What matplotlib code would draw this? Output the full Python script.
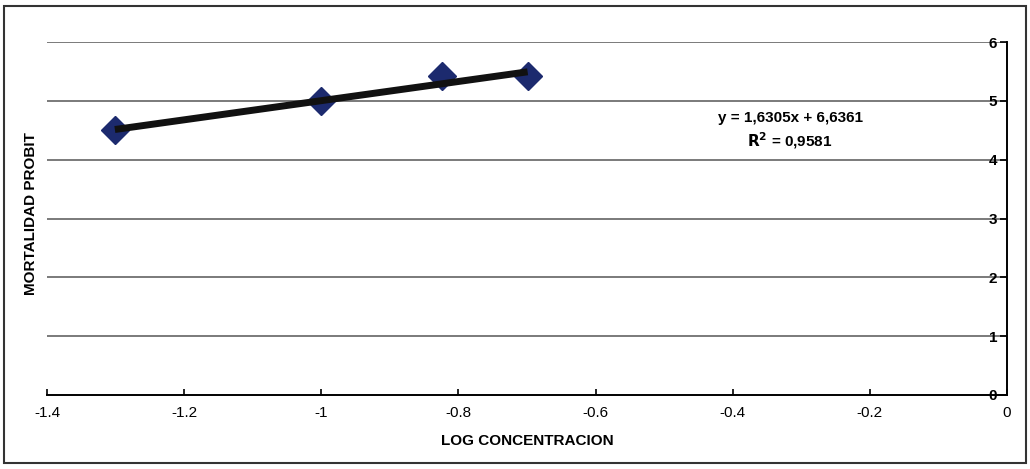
import matplotlib
matplotlib.use("Agg")
import matplotlib.pyplot as plt
from matplotlib.patches import Rectangle
import numpy as np

plt.rcParams['font.family'] = ['Liberation Sans Narrow', 'Liberation Sans', 'DejaVu Sans']

log_conc = [-1.301, -1.0, -0.824, -0.699]
probit = [4.50, 5.00, 5.43, 5.42]
slope = 1.6305
intercept = 6.6361
r2 = 0.9581
x_ticks = [-1.4, -1.2, -1.0, -0.8, -0.6, -0.4, -0.2, 0.0]
x_tick_labels = ['-1.4', '-1.2', '-1', '-0.8', '-0.6', '-0.4', '-0.2', '0']
y_ticks = [0, 1, 2, 3, 4, 5, 6]

fig = plt.figure(figsize=(10.30, 4.69), dpi=100)
ax = fig.add_axes([0.0456, 0.158, 0.932, 0.752])

ax.set_xlim(-1.4, 0)
ax.set_ylim(0, 6)

for y in y_ticks[1:]:
    ax.axhline(y, color='#7a7a7a', lw=1.4, zorder=1)

xl = np.array([min(log_conc), max(log_conc)])
ax.plot(xl, slope * xl + intercept, color='#111111', lw=5.0, zorder=3, solid_capstyle='butt')
ax.plot(log_conc, probit, linestyle='none', marker='D', markersize=14,
        color='#1c2a6e', markeredgecolor='#1c2a6e', zorder=2)

for s in ['top', 'right']:
    ax.spines[s].set_visible(False)
ax.spines['left'].set_position(('data', 0))
ax.spines['bottom'].set_position(('data', 0))
ax.spines['left'].set_linewidth(1.4)
ax.spines['bottom'].set_linewidth(1.4)

ax.set_xticks(x_ticks)
ax.set_xticklabels(x_tick_labels)
ax.set_yticks(y_ticks)
ax.tick_params(axis='x', direction='in', length=4, width=1.2, labelsize=11, pad=8)
ax.tick_params(axis='y', direction='out', length=5, width=1.2, labelsize=11, pad=2)
for t in ax.get_yticklabels():
    t.set_fontweight('bold')

ax.set_xlabel('LOG CONCENTRACION', fontsize=11, fontweight='bold', labelpad=10)
fig.text(0.030, 0.545, 'MORTALIDAD PROBIT', rotation=90, ha='center', va='center',
         fontsize=11, fontweight='bold')

eq = 'y = {:.4f}x + {:.4f}'.format(slope, intercept).replace('.', ',')
rr = '$\\mathbf{{R^2}}$ = {:.4f}'.format(r2).replace('.', ',')
fig.text(0.767, 0.748, eq, ha='center', va='center', fontsize=11, fontweight='bold')
fig.text(0.767, 0.700, rr, ha='center', va='center', fontsize=11, fontweight='bold')

fig.patches.append(Rectangle((0.004, 0.013), 0.992, 0.975, transform=fig.transFigure,
                             fill=False, edgecolor='#333333', lw=1.5))

fig.savefig('out.png', dpi=100)
